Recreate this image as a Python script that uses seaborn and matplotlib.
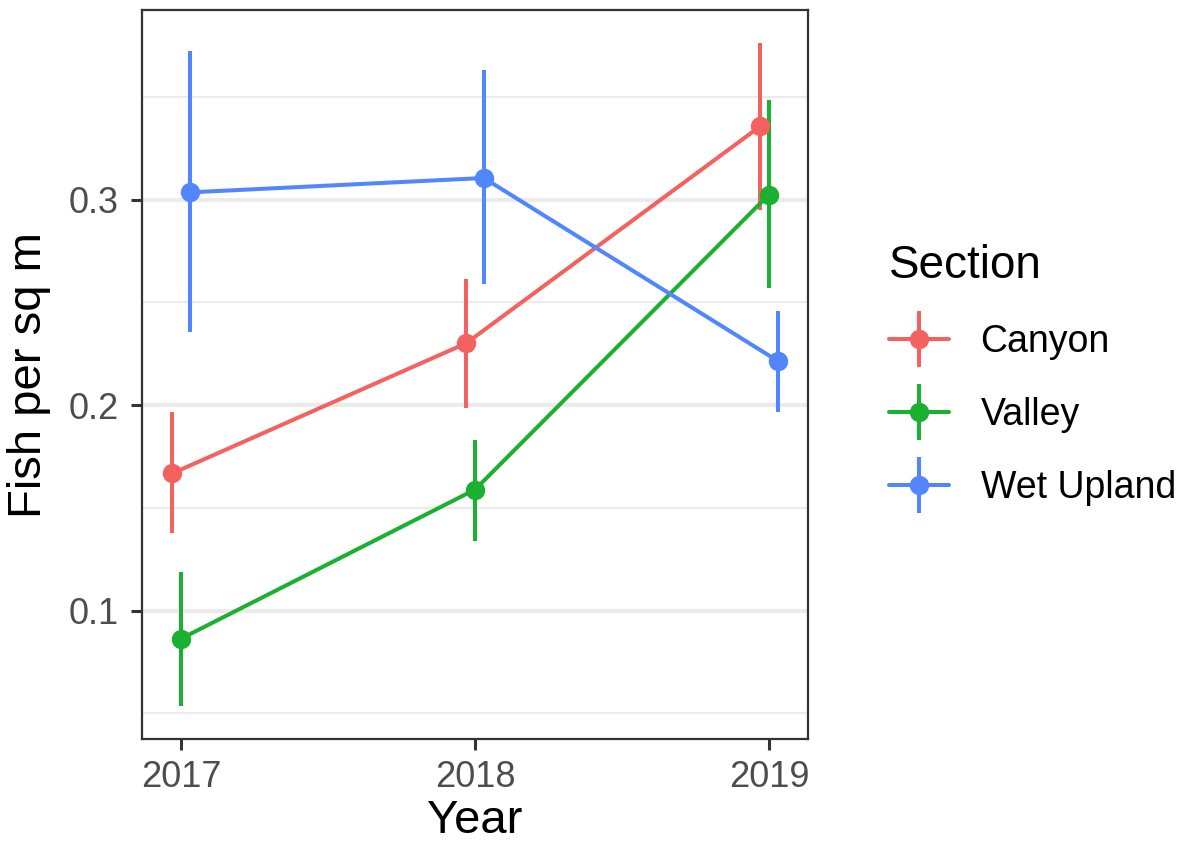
import matplotlib
matplotlib.use("Agg")
import matplotlib.pyplot as plt
from matplotlib.lines import Line2D
import numpy as np
import pandas as pd
import seaborn as sns

# Mean fish density by year and stream section, with interval bounds
years = [2017, 2018, 2019]
sections = ["Canyon", "Valley", "Wet Upland"]
canyon_mean = [0.1668, 0.2301, 0.3356]
canyon_lo = [0.1379, 0.1984, 0.2951]
canyon_hi = [0.1965, 0.2615, 0.3761]
valley_mean = [0.0864, 0.1589, 0.3024]
valley_lo = [0.0537, 0.1341, 0.2571]
valley_hi = [0.1188, 0.1832, 0.3482]
upland_mean = [0.3035, 0.3105, 0.2215]
upland_lo = [0.2354, 0.2587, 0.1967]
upland_hi = [0.3723, 0.3631, 0.2458]

palette = {"Canyon": "#F3625E", "Valley": "#1BB031", "Wet Upland": "#5186FF"}
dodge = {"Canyon": -0.03, "Valley": 0.0, "Wet Upland": 0.03}

rows = []
for sec, m, lo, hi in [("Canyon", canyon_mean, canyon_lo, canyon_hi),
                       ("Valley", valley_mean, valley_lo, valley_hi),
                       ("Wet Upland", upland_mean, upland_lo, upland_hi)]:
    for yr, a, b, c in zip(years, m, lo, hi):
        rows.append({"Section": sec, "Year": yr, "x": yr + dodge[sec],
                     "mean": a, "lo": b, "hi": c})
df = pd.DataFrame(rows)

sns.set_theme(style="white")
plt.rcParams["font.family"] = ["Liberation Sans", "DejaVu Sans"]
plt.rcParams["text.color"] = "black"

fig = plt.figure(figsize=(11.8, 8.42), dpi=100)
ax = fig.add_axes([142 / 1180, 1 - 739 / 842, 666 / 1180, 729 / 842])

lw = 2.9
# error bars
for sec in sections:
    d = df[df["Section"] == sec]
    ax.vlines(d["x"], d["lo"], d["hi"], color=palette[sec], lw=lw, zorder=3)

sns.lineplot(data=df, x="x", y="mean", hue="Section", palette=palette,
             marker="o", markersize=14, markeredgewidth=0, linewidth=lw,
             ax=ax, legend=False, zorder=4, sort=True, estimator=None)

# axis ranges with ggplot-style expansion
xmin, xmax = df["x"].min(), df["x"].max()
xpad = 0.05 * (xmax - xmin)
ax.set_xlim(xmin - xpad, xmax + xpad)
ymin, ymax = df["lo"].min(), df["hi"].max()
ypad = 0.05 * (ymax - ymin)
ax.set_ylim(ymin - ypad, ymax + ypad)

ax.set_xticks(years)
ax.set_xticklabels([str(y) for y in years])
ax.set_yticks([0.1, 0.2, 0.3])
ax.set_yticklabels(["0.1", "0.2", "0.3"])

ax.grid(False)
for v in [0.1, 0.2, 0.3]:
    ax.axhline(v, color="#EBEBEB", lw=3.0, zorder=0)
for v in [0.05, 0.15, 0.25, 0.35]:
    ax.axhline(v, color="#EBEBEB", lw=1.5, zorder=0)

for s in ax.spines.values():
    s.set_color("#333333")
    s.set_linewidth(1.6)

ax.tick_params(axis="both", which="major", length=8, width=2.2,
               color="#333333", labelcolor="#4D4D4D", labelsize=26,
               left=True, bottom=True)
ax.tick_params(axis="x", pad=7)
ax.tick_params(axis="y", pad=9)

ax.set_xlabel("Year", fontsize=34, color="black", labelpad=3)
ax.set_ylabel("Fish per sq m", fontsize=34, color="black", labelpad=12)

handles = []
for sec in sections:
    h1 = Line2D([], [], color=palette[sec], lw=lw, marker="o",
                markersize=14, markeredgewidth=0)
    h2 = Line2D([], [], color=palette[sec], lw=0, marker="|",
                markersize=41, markeredgewidth=lw)
    handles.append((h1, h2))

leg = fig.legend(handles, sections, title="Section", loc="upper left",
                 bbox_to_anchor=(855 / 1180, 1 - 210 / 842), frameon=False,
                 fontsize=27, title_fontsize=33, handlelength=1.6,
                 handletextpad=0.85, labelspacing=0.98, alignment="left",
                 labelcolor="black")
leg.get_title().set_color("black")

fig.savefig("out.png", dpi=100, facecolor="white")
